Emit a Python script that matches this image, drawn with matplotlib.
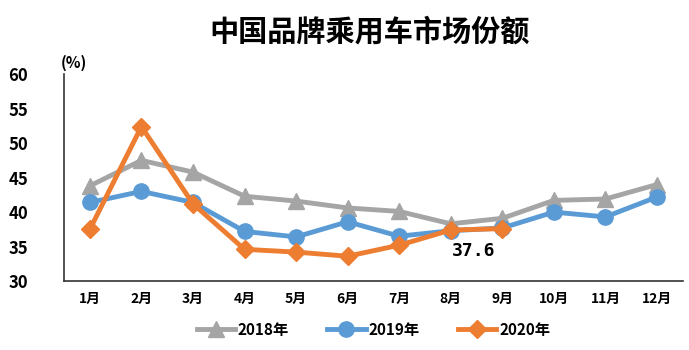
import matplotlib.pyplot as plt

plt.rcParams['font.family'] = ['Noto Sans CJK SC', 'DejaVu Sans']

months = ['1月', '2月', '3月', '4月', '5月', '6月', '7月', '8月', '9月', '10月', '11月', '12月']
s2018 = [43.8, 47.5, 45.8, 42.3, 41.6, 40.6, 40.1, 38.3, 39.1, 41.7, 41.9, 44.0]
s2019 = [41.4, 43.0, 41.4, 37.2, 36.4, 38.6, 36.5, 37.3, 37.7, 40.0, 39.3, 42.2]
s2020 = [37.5, 52.4, 41.2, 34.6, 34.2, 33.6, 35.2, 37.4, 37.6]
yticks = [30, 35, 40, 45, 50, 55, 60]

fig = plt.figure(figsize=(6.89, 3.5), dpi=100)
ax = fig.add_axes([0.093, 0.197, 0.898, 0.591])

x = list(range(1, 13))
ax.plot(x, s2018, color='#a5a5a5', lw=3.5, marker='^', ms=11, label='2018年')
ax.plot(x, s2019, color='#5b9bd5', lw=3.5, marker='o', ms=11, label='2019年')
ax.plot(x[:len(s2020)], s2020, color='#ed7d31', lw=3.5, marker='D', ms=9, label='2020年')

ax.annotate('37.6', (9, s2020[-1]), xytext=(-36, -20), textcoords='offset points',
            fontsize=13, fontweight='bold', family='DejaVu Sans Mono')

ax.set_xlim(0.5, 12.5)
ax.set_ylim(30, 60)
ax.set_xticks(x)
ax.set_xticklabels(months, fontsize=10, fontweight='bold')
ax.set_yticks(yticks)
ax.set_yticklabels([str(v) for v in yticks], fontsize=12, fontweight='bold')
ax.tick_params(length=0, pad=8)
ax.tick_params(axis='y', pad=26)
for s in ['top', 'right']:
    ax.spines[s].set_visible(False)
for s in ['left', 'bottom']:
    ax.spines[s].set_color('#333333')
    ax.spines[s].set_linewidth(1.2)

fig.text(0.088, 0.805, '(%)', fontsize=11, fontweight='bold')
fig.text(0.537, 0.91, '中国品牌乘用车市场份额', fontsize=21, fontweight='bold',
         ha='center', va='center')

ax.legend(loc='upper center', bbox_to_anchor=(0.5, -0.13), ncol=3, frameon=False,
          prop={'weight': 'bold', 'size': 11}, handlelength=2.5, columnspacing=2.5, handletextpad=0.2)

fig.savefig('out.png', dpi=100)
